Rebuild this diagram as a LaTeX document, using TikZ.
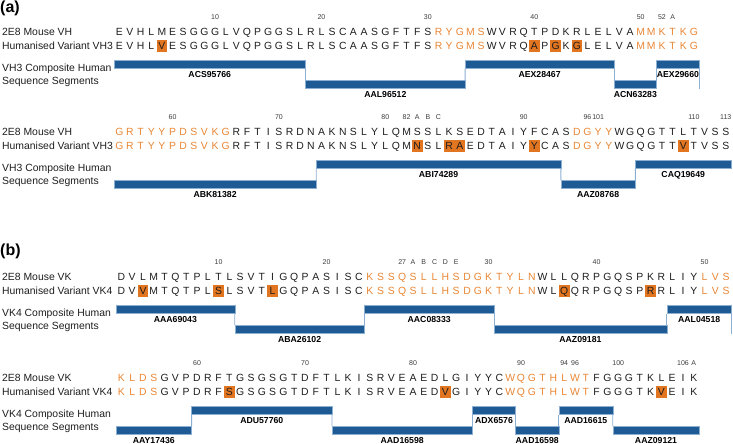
\documentclass[tikz,border=0pt]{standalone}
\usepackage{fontspec}
\setmainfont{Liberation Sans}
\usetikzlibrary{calc}
\definecolor{seqblack}{RGB}{30,30,30}
\definecolor{seqorange}{RGB}{233,134,52}
\definecolor{hlfill}{RGB}{226,117,32}
\definecolor{barblue}{RGB}{30,90,147}
\definecolor{barline}{RGB}{140,175,210}
\definecolor{numgrey}{RGB}{60,60,60}
\newcommand\seqfont{\fontsize{10.4}{12}\selectfont}
\newcommand\numfont{\fontsize{7}{8}\selectfont}
\newcommand\labfont{\fontsize{8.7}{10}\selectfont\bfseries}
\newcommand\panfont{\fontsize{16}{18}\selectfont\bfseries}
\def\putres#1#2\endres{%
  \def\resfill{none}\def\rescol{seqblack}%
  \if\relax\detokenize{#2}\relax
    \def\resch{#1}%
  \else
    \def\resch{#2}%
    \ifx o#1\def\rescol{seqorange}\fi
    \ifx h#1\def\resfill{hlfill}\fi
  \fi}
\newcommand\seqline[3]{%
  \foreach \rr [count=\ri] in {#3} {%
    \expandafter\putres\rr\endres
    \node[res, text=\rescol, fill=\resfill] (#1-\ri) at ({\xo+(\ri-0.5)*\pitch},#2) {\resch};
  }}
\newcommand\numline[3]{%
  \foreach \ix/\tx in {#3} {%
    \node[numnode] (#1-\ix) at ({\xo+(\ix-0.5)*\pitch},#2) {\tx};
  }}
\newcommand\segbar[6]{%
  \pgfmathsetmacro\bxl{\xo+(#4-1)*\pitch}%
  \pgfmathsetmacro\bw{(#5-#4+1)*\pitch}%
  \pgfmathsetmacro\bxc{\bxl+\bw/2}%
  \pgfmathsetmacro\byc{#2+32.25+#3*20}%
  \pgfmathsetmacro\lyb{#2+45.1+#3*20}%
  \node[segbox, minimum width=\bw pt] (#1) at (\bxc,\byc) {};
  \node[seglab] (#1-lab) at (\bxc,\lyb) {#6};
}
\newcommand\sidelabels[5]{% #1 prefix, #2 block y, #3 row1, #4 row2, #5 composite
  \node[side] (#1-l1) at (2,#2+3.7) {#3};
  \node[side] (#1-l2) at (2,#2+17.2) {#4};
  \node[side] (#1-l3) at (2,#2+39.2) {#5};
  \node[side] (#1-l4) at (2,#2+52.7) {Sequence Segments};
}
\tikzset{
  res/.style={anchor=base, inner sep=0pt, outer sep=0pt, minimum width=\pitch pt,
    text height=9.3pt, text depth=2.8pt, font=\seqfont},
  numnode/.style={anchor=base, inner sep=0pt, font=\numfont, text=numgrey},
  segbox/.style={draw=barline, fill=barblue, line width=0.5pt, minimum height=8.5pt,
    inner sep=0pt, outer sep=0pt},
  seglab/.style={anchor=base, inner sep=0pt, font=\labfont, text=black},
  side/.style={anchor=base west, inner sep=0pt, font=\seqfont, text=seqblack},
  stepline/.style={draw=barline, line width=0.8pt},
  panel/.style={anchor=base west, inner sep=0pt, font=\panfont, text=black}
}
\begin{document}
\begin{tikzpicture}[x=1pt,y=-1pt]
\useasboundingbox (0,0) rectangle (733,444);
% ---------------- panel (a) ----------------
\node[panel] (pa) at (0,12.4) {(a)};
\def\xo{114}\def\pitch{10.64}
% block 1
\sidelabels{a1}{32}{2E8 Mouse VH}{Humanised Variant VH3}{VH3 Composite Human}
\numline{a1n}{19.5}{10/10,20/20,30/30,40/40,50/50,52/52,53/A}
\seqline{a1m}{35.7}{E,V,H,L,M,E,S,G,G,G,L,V,Q,P,G,G,S,L,R,L,S,C,A,A,S,G,F,T,F,S,oR,oY,oG,oM,oS,W,V,R,Q,T,P,D,K,R,L,E,L,V,A,oM,oM,oK,oT,oK,oG}
\seqline{a1h}{49.2}{E,V,H,L,hV,E,S,G,G,G,L,V,Q,P,G,G,S,L,R,L,S,C,A,A,S,G,F,T,F,S,oR,oY,oG,oM,oS,W,V,R,Q,hA,P,hG,K,hG,L,E,L,V,A,oM,oM,oK,oT,oK,oG}
\segbar{a1s1}{32}{0}{1}{18}{ACS95766}
\segbar{a1s2}{32}{1}{19}{33}{AAL96512}
\segbar{a1s3}{32}{0}{34}{47}{AEX28467}
\segbar{a1s4}{32}{1}{48}{51}{ACN63283}
\segbar{a1s5}{32}{0}{52}{55}{AEX29660}
\draw[stepline] (a1s1.south east) -- (a1s2.north west);
\draw[stepline] (a1s2.north east) -- (a1s3.south west);
\draw[stepline] (a1s3.south east) -- (a1s4.north west);
\draw[stepline] (a1s4.north east) -- (a1s5.south west);
\coordinate (a1end) at ($(a1s5.south east)+(0,20)$);
\draw[stepline] (a1s5.south east) -- (a1end);
% block 2
\sidelabels{a2}{132}{2E8 Mouse VH}{Humanised Variant VH3}{VH3 Composite Human}
\numline{a2n}{119.5}{6/60,16/70,26/80,28/82,29/A,30/B,31/C,39/90,45/96,46/101,55/110,58/113}
\seqline{a2m}{135.7}{oG,oR,oT,oY,oY,oP,oD,oS,oV,oK,oG,R,F,T,I,S,R,D,N,A,K,N,S,L,Y,L,Q,M,S,S,L,K,S,E,D,T,A,I,Y,F,C,A,S,oD,oG,oY,oY,W,G,Q,G,T,T,L,T,V,S,S}
\seqline{a2h}{149.2}{oG,oR,oT,oY,oY,oP,oD,oS,oV,oK,oG,R,F,T,I,S,R,D,N,A,K,N,S,L,Y,L,Q,M,hN,S,L,hR,hA,E,D,T,A,I,Y,hY,C,A,S,oD,oG,oY,oY,W,G,Q,G,T,T,hV,T,V,S,S}
\segbar{a2s1}{132}{1}{1}{19}{ABK81382}
\segbar{a2s2}{132}{0}{20}{42}{ABI74289}
\segbar{a2s3}{132}{1}{43}{49}{AAZ08768}
\segbar{a2s4}{132}{0}{50}{58}{CAQ19649}
\draw[stepline] (a2s1.north east) -- (a2s2.south west);
\draw[stepline] (a2s2.south east) -- (a2s3.north west);
\draw[stepline] (a2s3.north east) -- (a2s4.south west);
% ---------------- panel (b) ----------------
\node[panel] (pb) at (0,255) {(b)};
\def\xo{116}\def\pitch{10.8}
% block 3
\sidelabels{b1}{277}{2E8 Mouse VK}{Humanised Variant VK4}{VK4 Composite Human}
\numline{b1n}{264.5}{10/10,20/20,27/27,28/A,29/B,30/C,31/D,32/E,35/30,45/40,55/50}
\seqline{b1m}{280.7}{D,V,L,M,T,Q,T,P,L,T,L,S,V,T,I,G,Q,P,A,S,I,S,C,oK,oS,oS,oQ,oS,oL,oL,oH,oS,oD,oG,oK,oT,oY,oL,oN,W,L,L,Q,R,P,G,Q,S,P,K,R,L,I,Y,oL,oV,oS}
\seqline{b1h}{294.2}{D,V,hV,M,T,Q,T,P,L,hS,L,S,V,T,hL,G,Q,P,A,S,I,S,C,oK,oS,oS,oQ,oS,oL,oL,oH,oS,oD,oG,oK,oT,oY,oL,oN,W,L,hQ,Q,R,P,G,Q,S,P,hR,R,L,I,Y,oL,oV,oS}
\segbar{b1s1}{277}{0}{1}{11}{AAA69043}
\segbar{b1s2}{277}{1}{12}{23}{ABA26102}
\segbar{b1s3}{277}{0}{24}{35}{AAC08333}
\segbar{b1s4}{277}{1}{36}{51}{AAZ09181}
\segbar{b1s5}{277}{0}{52}{57}{AAL04518}
\draw[stepline] (b1s1.south east) -- (b1s2.north west);
\draw[stepline] (b1s2.north east) -- (b1s3.south west);
\draw[stepline] (b1s3.south east) -- (b1s4.north west);
\draw[stepline] (b1s4.north east) -- (b1s5.south west);
\coordinate (b1end) at ($(b1s5.south east)+(0,20)$);
\draw[stepline] (b1s5.south east) -- (b1end);
% block 4
\sidelabels{b2}{378}{2E8 Mouse VK}{Humanised Variant VK4}{VK4 Composite Human}
\numline{b2n}{365.5}{8/60,18/70,28/80,38/90,42/94,43/96,47/100,53/106,54/A}
\seqline{b2m}{381.7}{oK,oL,oD,oS,G,V,P,D,R,F,T,G,S,G,S,G,T,D,F,T,L,K,I,S,R,V,E,A,E,D,L,G,I,Y,Y,C,oW,oQ,oG,oT,oH,oL,oW,oT,F,G,G,G,T,K,L,E,I,K}
\seqline{b2h}{395.2}{oK,oL,oD,oS,G,V,P,D,R,F,hS,G,S,G,S,G,T,D,F,T,L,K,I,S,R,V,E,A,E,D,hV,G,I,Y,Y,C,oW,oQ,oG,oT,oH,oL,oW,oT,F,G,G,G,T,K,hV,E,I,K}
\segbar{b2s1}{378}{1}{1}{7}{AAY17436}
\segbar{b2s2}{378}{0}{8}{20}{ADU57760}
\segbar{b2s3}{378}{1}{21}{33}{AAD16598}
\segbar{b2s4}{378}{0}{34}{37}{ADX6576}
\segbar{b2s5}{378}{1}{38}{41}{AAD16598}
\segbar{b2s6}{378}{0}{42}{46}{AAD16615}
\segbar{b2s7}{378}{1}{47}{54}{AAZ09121}
\draw[stepline] (b2s1.north east) -- (b2s2.south west);
\draw[stepline] (b2s2.south east) -- (b2s3.north west);
\draw[stepline] (b2s3.north east) -- (b2s4.south west);
\draw[stepline] (b2s4.south east) -- (b2s5.north west);
\draw[stepline] (b2s5.north east) -- (b2s6.south west);
\draw[stepline] (b2s6.south east) -- (b2s7.north west);
\end{tikzpicture}
\end{document}
